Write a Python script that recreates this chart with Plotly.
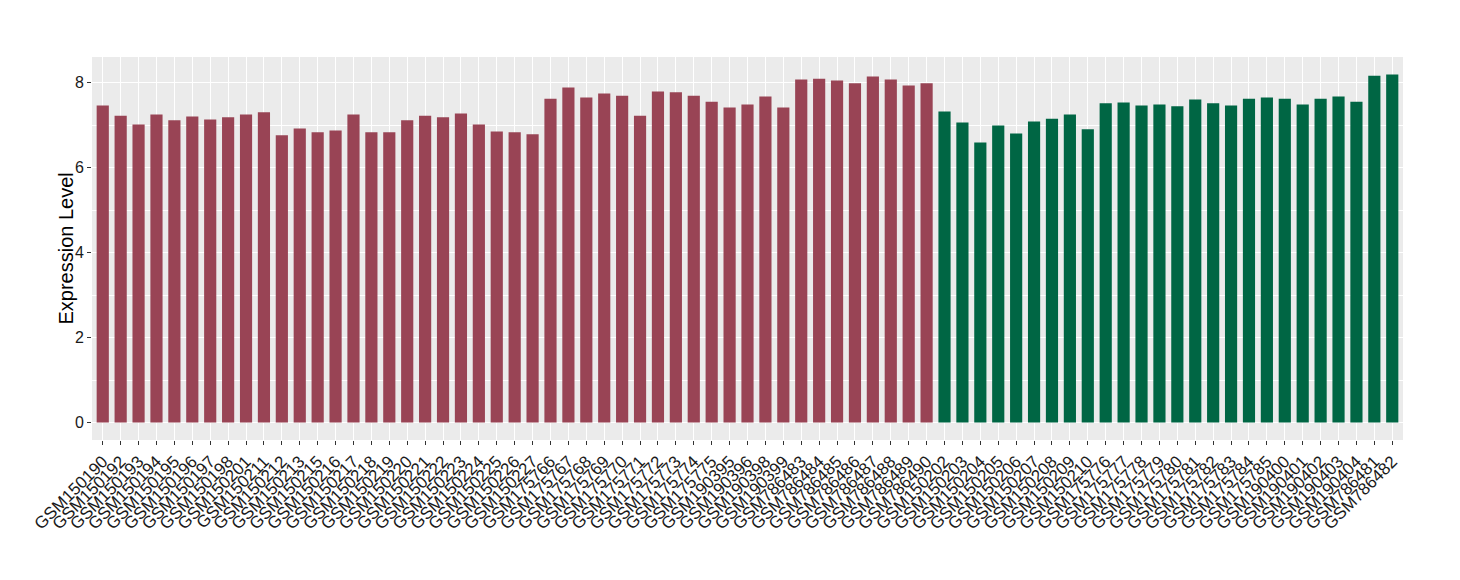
import plotly.graph_objects as go

samples_a = ["GSM150190","GSM150192","GSM150193","GSM150194","GSM150195","GSM150196","GSM150197","GSM150198","GSM150201","GSM150211",
             "GSM150212","GSM150213","GSM150215","GSM150216","GSM150217","GSM150218","GSM150219","GSM150220","GSM150221","GSM150222",
             "GSM150223","GSM150224","GSM150225","GSM150226","GSM150227","GSM175766","GSM175767","GSM175768","GSM175769","GSM175770",
             "GSM175771","GSM175772","GSM175773","GSM175774","GSM175775","GSM190395","GSM190396","GSM190398","GSM190399","GSM786483",
             "GSM786484","GSM786485","GSM786486","GSM786487","GSM786488","GSM786489","GSM786490"]
values_a = [7.46,7.22,7.01,7.25,7.11,7.20,7.13,7.18,7.25,7.30,
            6.76,6.92,6.83,6.87,7.25,6.83,6.83,7.11,7.22,7.18,
            7.27,7.01,6.85,6.83,6.78,7.62,7.88,7.65,7.74,7.69,
            7.22,7.79,7.77,7.69,7.55,7.41,7.48,7.67,7.41,8.07,
            8.09,8.05,7.98,8.14,8.07,7.93,7.98]

samples_b = ["GSM150202","GSM150203","GSM150204","GSM150205","GSM150206","GSM150207","GSM150208","GSM150209","GSM150210",
             "GSM175776","GSM175777","GSM175778","GSM175779","GSM175780","GSM175781","GSM175782","GSM175783","GSM175784","GSM175785",
             "GSM190400","GSM190401","GSM190402","GSM190403","GSM190404","GSM786481","GSM786482"]
values_b = [7.32,7.06,6.59,6.99,6.80,7.08,7.15,7.25,6.90,
            7.51,7.53,7.46,7.48,7.44,7.60,7.51,7.46,7.62,7.65,
            7.62,7.48,7.62,7.67,7.55,8.16,8.19]

y_title = "Expression Level"
color_a = "#994455"
color_b = "#006644"

fig = go.Figure()
fig.add_trace(go.Bar(x=samples_a, y=values_a, marker=dict(color=color_a, line=dict(width=0)), showlegend=False))
fig.add_trace(go.Bar(x=samples_b, y=values_b, marker=dict(color=color_b, line=dict(width=0)), showlegend=False))

all_samples = samples_a + samples_b
fig.update_layout(
    width=1444, height=564,
    margin=dict(l=84, r=49, t=49, b=132),
    paper_bgcolor="white", plot_bgcolor="#EBEBEB",
    bargap=0.32,
    font=dict(family="Liberation Sans, Arial, sans-serif", color="#1a1a1a"),
)
fig.update_xaxes(
    type="category", categoryorder="array", categoryarray=all_samples,
    tickmode="array", tickvals=all_samples, ticktext=all_samples,
    range=[-0.6, len(all_samples) - 0.4], automargin=False,
    tickangle=-45, tickfont=dict(size=17, color="#1a1a1a"),
    ticks="outside", ticklen=4, tickcolor="#333333", tickwidth=1,
    showgrid=True, gridcolor="white", gridwidth=1.3, zeroline=False, showline=False,
)
fig.update_yaxes(
    range=[-0.41, 8.6], tickvals=[0, 2, 4, 6, 8], automargin=False,
    tickfont=dict(size=16, color="#1a1a1a"),
    ticks="outside", ticklen=4, tickcolor="#333333", tickwidth=1,
    showgrid=True, gridcolor="white", gridwidth=1.3, zeroline=False, showline=False,
    minor=dict(tickvals=[1, 3, 5, 7], showgrid=True, gridcolor="white", gridwidth=0.6, ticks=""),
)
fig.add_annotation(
    text=y_title, textangle=-90, showarrow=False,
    xref="paper", yref="paper", x=0, y=0.5, xanchor="center", yanchor="middle",
    xshift=-27, font=dict(size=20, color="#000000"),
)

fig.write_html("out.html")
